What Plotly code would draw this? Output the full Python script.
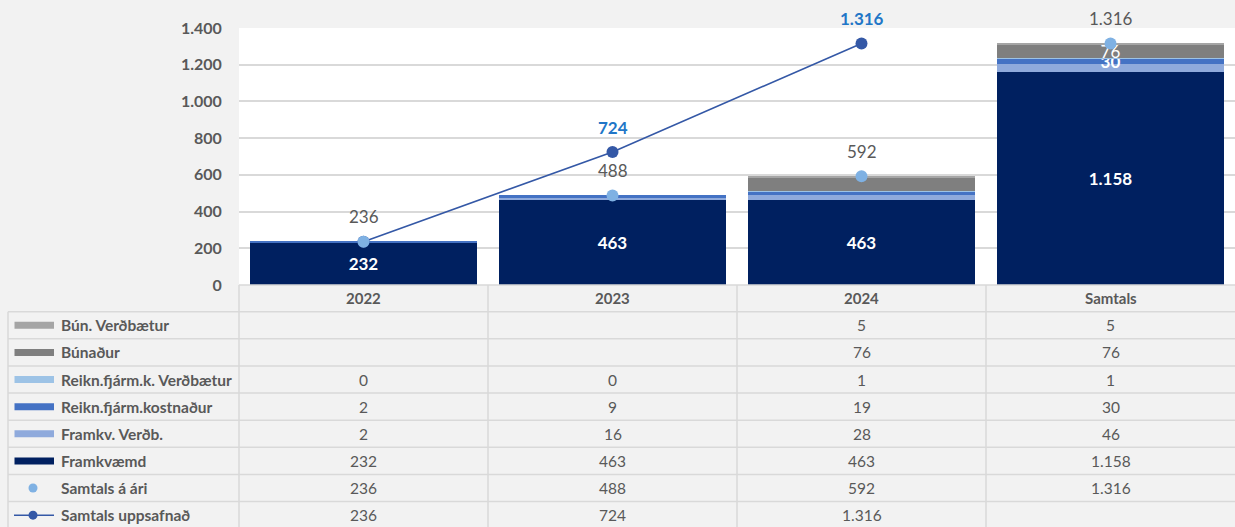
import plotly.graph_objects as go

# ---------------- data ----------------
categories = ["2022", "2023", "2024", "Samtals"]
framkvaemd = [232, 463, 463, 1158]
framkv_verdb = [2, 16, 28, 46]
reikn_kostnadur = [2, 9, 19, 30]
reikn_verdbaetur = [0, 0, 1, 1]
bunadur = [None, None, 76, 76]
bun_verdbaetur = [None, None, 5, 5]
samtals_a_ari = [236, 488, 592, 1316]
samtals_uppsafnad = [236, 724, 1316, None]
y_ticks = [0, 200, 400, 600, 800, 1000, 1200, 1400]

# ---------------- geometry / style ----------------
W, H = 1235, 527
PLOT_L, PLOT_T, PLOT_B = 239, 28, 285
TABLE_L = 8
HEADER_B = 311.7
ROW_H = 27.13
FONT = "Lato"
GREY_TXT = "#595959"
GRID = "#d9d9d9"
TABLE_FS = 15.5


def X(px):
    return px / W


def Y(py):
    return 1 - py / H


def fmt(v):
    return "" if v is None else f"{v:,}".replace(",", ".")


# series (stack order bottom -> top)
bar_series = [
    ("Framkvæmd", framkvaemd, "#002060", [True, True, True, True], True),
    ("Framkv. Verðb.", framkv_verdb, "#8faadc", [False] * 4, True),
    ("Reikn.fjárm.kostnaður", reikn_kostnadur, "#4472c4", [False, False, False, True], True),
    ("Reikn.fjárm.k. Verðbætur", reikn_verdbaetur, "#9dc3e6", [False] * 4, True),
    ("Búnaður", bunadur, "#7f7f7f", [False, False, False, True], False),
    ("Bún. Verðbætur", bun_verdbaetur, "#a5a5a5", [False] * 4, True),
]

LINE_COLOR = "#3458a6"
DOT_COLOR = "#7fb1e3"
LINE_LABEL_COLOR = "#2176c7"

fig = go.Figure()

for name, vals, color, show, bold in bar_series:
    texts = [fmt(v) if s else "" for v, s in zip(vals, show)]
    fig.add_trace(go.Bar(
        x=categories, y=vals, name=name,
        marker=dict(color=color, line=dict(width=0)),
        text=texts if any(show) else None,
        textposition="inside" if any(show) else "none",
        insidetextanchor="middle",
        textangle=0,
        constraintext="none",
        textfont=dict(family=FONT, size=17, color="white",
                      weight="bold" if bold else "normal"),
        hoverinfo="skip",
    ))

fig.add_trace(go.Scatter(
    x=categories, y=samtals_uppsafnad, name="Samtals uppsafnað",
    mode="lines+markers",
    line=dict(color=LINE_COLOR, width=1.6),
    marker=dict(color=LINE_COLOR, size=12),
    hoverinfo="skip",
))
fig.add_trace(go.Scatter(
    x=categories, y=samtals_a_ari, name="Samtals á ári",
    mode="markers",
    marker=dict(color=DOT_COLOR, size=12),
    hoverinfo="skip",
))

annotations = []
# point labels (x given as category index)
for i, v in enumerate(samtals_a_ari):
    annotations.append(dict(x=i, y=v, xref="x", yref="y", text=fmt(v), showarrow=False,
                            xanchor="center", yanchor="middle", yshift=25,
                            font=dict(family=FONT, size=17, color=GREY_TXT)))
for i, v in enumerate(samtals_uppsafnad):
    if v is None or i == 0:
        continue
    annotations.append(dict(x=i, y=v, xref="x", yref="y", text=fmt(v), showarrow=False,
                            xanchor="center", yanchor="middle", yshift=25,
                            font=dict(family=FONT, size=17, color=LINE_LABEL_COLOR,
                                      weight="bold")))

# ---------------- data table ----------------
table_rows = [
    ("Bún. Verðbætur", bun_verdbaetur, "bar", "#a5a5a5"),
    ("Búnaður", bunadur, "bar", "#7f7f7f"),
    ("Reikn.fjárm.k. Verðbætur", reikn_verdbaetur, "bar", "#9dc3e6"),
    ("Reikn.fjárm.kostnaður", reikn_kostnadur, "bar", "#4472c4"),
    ("Framkv. Verðb.", framkv_verdb, "bar", "#8faadc"),
    ("Framkvæmd", framkvaemd, "bar", "#002060"),
    ("Samtals á ári", samtals_a_ari, "dot", DOT_COLOR),
    ("Samtals uppsafnað", samtals_uppsafnad, "line", LINE_COLOR),
]

shapes = []
line_style = dict(color=GRID, width=1.5)
col_w = (W - PLOT_L) / len(categories)
col_edges = [PLOT_L + i * col_w for i in range(len(categories))]

# header row
shapes.append(dict(type="line", xref="paper", yref="paper", x0=X(PLOT_L), x1=1,
                   y0=Y(PLOT_B), y1=Y(PLOT_B), line=line_style, layer="above"))
for i, c in enumerate(categories):
    annotations.append(dict(x=i, xref="x", y=Y((PLOT_B + HEADER_B) / 2), yref="paper",
                            text=c, showarrow=False, xanchor="center", yanchor="middle",
                            font=dict(family=FONT, size=15, color=GREY_TXT, weight="bold")))

n = len(table_rows)
for r in range(n + 1):
    yy = HEADER_B + r * ROW_H
    shapes.append(dict(type="line", xref="paper", yref="paper", x0=X(TABLE_L), x1=1,
                       y0=Y(yy), y1=Y(yy), line=line_style))
bottom = HEADER_B + n * ROW_H
shapes.append(dict(type="line", xref="paper", yref="paper", x0=X(TABLE_L), x1=X(TABLE_L),
                   y0=Y(HEADER_B), y1=Y(bottom), line=line_style))
for xe in col_edges:
    shapes.append(dict(type="line", xref="paper", yref="paper", x0=X(xe), x1=X(xe),
                       y0=Y(PLOT_B), y1=Y(bottom), line=line_style))

for r, (label, vals, kind, color) in enumerate(table_rows):
    cy = HEADER_B + (r + 0.5) * ROW_H
    annotations.append(dict(x=X(59), xref="paper", y=Y(cy), yref="paper", text=label,
                            xanchor="left", yanchor="middle", showarrow=False,
                            font=dict(family=FONT, size=TABLE_FS, color=GREY_TXT,
                                      weight="bold")))
    if kind == "bar":
        shapes.append(dict(type="rect", xref="paper", yref="paper", x0=X(14.5), x1=X(54),
                           y0=Y(cy - 3.5), y1=Y(cy + 3.5), fillcolor=color,
                           line=dict(width=0)))
    elif kind == "dot":
        shapes.append(dict(type="circle", xref="paper", yref="paper", x0=X(28.5), x1=X(37.5),
                           y0=Y(cy - 4.5), y1=Y(cy + 4.5), fillcolor=color,
                           line=dict(width=0)))
    else:
        shapes.append(dict(type="line", xref="paper", yref="paper", x0=X(14), x1=X(54),
                           y0=Y(cy), y1=Y(cy), line=dict(color=color, width=1.6)))
        shapes.append(dict(type="circle", xref="paper", yref="paper", x0=X(28.5), x1=X(37.5),
                           y0=Y(cy - 4.5), y1=Y(cy + 4.5), fillcolor=color,
                           line=dict(width=0)))
    for i, v in enumerate(vals):
        if v is None:
            continue
        annotations.append(dict(x=i, xref="x", y=Y(cy), yref="paper", text=fmt(v),
                                showarrow=False, xanchor="center", yanchor="middle",
                                font=dict(family=FONT, size=TABLE_FS, color=GREY_TXT)))

fig.update_layout(
    width=W, height=H,
    margin=dict(l=0, r=0, t=0, b=0, pad=0, autoexpand=False),
    paper_bgcolor="#f2f2f2",
    plot_bgcolor="white",
    barmode="stack",
    bargap=0.09,
    showlegend=False,
    separators=",.",
    font=dict(family=FONT, color=GREY_TXT),
    xaxis=dict(type="category", domain=[X(PLOT_L), 1], range=[-0.5, len(categories) - 0.5],
               showticklabels=False, showgrid=False, zeroline=False, ticks="",
               automargin=False),
    yaxis=dict(domain=[Y(PLOT_B), Y(PLOT_T)], range=[0, 1400], tickvals=y_ticks,
               ticktext=[fmt(t) for t in y_ticks], automargin=False,
               showgrid=True, gridcolor=GRID, gridwidth=1.5, zeroline=False,
               ticks="outside", ticklen=13, tickcolor="rgba(0,0,0,0)",
               tickfont=dict(family=FONT, size=16, color=GREY_TXT, weight="bold")),
    shapes=shapes,
    annotations=annotations,
)

fig.write_html("out.html", config={"displayModeBar": False})
